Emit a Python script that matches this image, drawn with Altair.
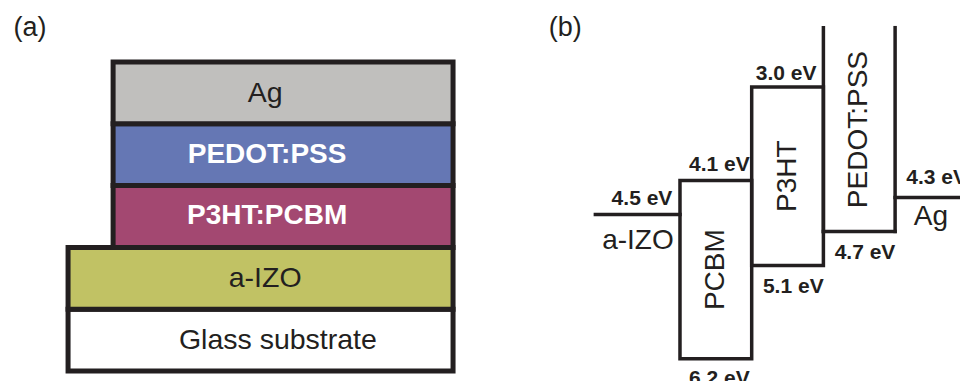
import altair as alt
import pandas as pd

INK = "#231f20"
FONT = "Liberation Sans"

# ---------------- Panel (a): device layer stack ----------------
stack_layers = ["Glass substrate", "a-IZO", "P3HT:PCBM", "PEDOT:PSS", "Ag"]
stack_bottom = [0, 1, 2, 3, 4]
stack_x_start = [0.0, 0.0, 0.117, 0.117, 0.117]
stack_x_end = [1.0, 1.0, 1.0, 1.0, 1.0]
stack_fill = ["#ffffff", "#c1c264", "#a34871", "#6577b4", "#c0bfbd"]
stack_label_x = [0.545, 0.512, 0.517, 0.517, 0.512]
stack_label_bold = [False, False, True, True, False]

# ---------------- Panel (b): energy levels ----------------
box_names = ["PCBM", "P3HT"]
box_x0 = [0, 1]
box_x1 = [1, 2]
box_lumo = [4.1, 3.0]
box_homo = [6.2, 5.1]

electrode_names = ["a-IZO", "Ag"]
electrode_x0 = [-1.18, 3]
electrode_x1 = [0, 4]
electrode_wf = [4.5, 4.3]
electrode_label_x = [-0.586, 3.5]
electrode_label_off = [35, 28]

pedot_name = "PEDOT:PSS"
pedot_x0, pedot_x1 = 2, 3
pedot_wf = 4.7
pedot_top = 2.3

energy_values = [4.5, 4.1, 3.0, 5.1, 4.7, 4.3, 6.2]
energy_label_x = [-0.53, 0.55, 1.48, 1.58, 2.58, 3.58, 0.55]
energy_label_off = [-9, -9, -7, 28, 28, -13, 26]

panel_labels = ["(a)", "(b)"]

# ---------------- build panel (a) ----------------
df_stack = pd.DataFrame({
    "layer": stack_layers,
    "x0": stack_x_start,
    "x1": stack_x_end,
    "y0": stack_bottom,
    "y1": [b + 1 for b in stack_bottom],
    "ymid": [b + 0.5 for b in stack_bottom],
    "lx": stack_label_x,
    "fill": stack_fill,
    "bold": stack_label_bold,
})

sx_a = alt.Scale(domain=[-0.156, 1.070], nice=False, zero=False)
sy_a = alt.Scale(domain=[-0.162, 5.874], nice=False, zero=False)

rects_a = alt.Chart(df_stack).mark_rect(stroke=INK, strokeWidth=5).encode(
    x=alt.X("x0:Q", scale=sx_a, axis=None),
    x2="x1:Q",
    y=alt.Y("y0:Q", scale=sy_a, axis=None),
    y2="y1:Q",
    fill=alt.Fill("fill:N", scale=None),
)

text_a_norm = alt.Chart(df_stack[~df_stack["bold"]]).mark_text(
    font=FONT, fontSize=28.5, color=INK, align="center", baseline="middle"
).encode(
    x=alt.X("lx:Q", scale=sx_a, axis=None),
    y=alt.Y("ymid:Q", scale=sy_a, axis=None),
    text="layer:N",
)

text_a_bold = alt.Chart(df_stack[df_stack["bold"]]).mark_text(
    font=FONT, fontSize=28, fontWeight="bold", color="#ffffff", align="center", baseline="middle"
).encode(
    x=alt.X("lx:Q", scale=sx_a, axis=None),
    y=alt.Y("ymid:Q", scale=sy_a, axis=None),
    text="layer:N",
)

df_la = pd.DataFrame({"t": [panel_labels[0]], "x": [-0.099], "y": [5.55]})
label_a = alt.Chart(df_la).mark_text(
    font=FONT, fontSize=27, color=INK, align="center", baseline="middle"
).encode(
    x=alt.X("x:Q", scale=sx_a, axis=None),
    y=alt.Y("y:Q", scale=sy_a, axis=None),
    text="t:N",
)

panel_a = alt.layer(rects_a, text_a_norm, text_a_bold, label_a).properties(width=472, height=373)

# ---------------- build panel (b) ----------------
sx_b = alt.Scale(domain=[-2.789, 3.905], nice=False, zero=False)
sy_b = alt.Scale(domain=[2.068, 6.462], nice=False, zero=False, reverse=True)

df_boxes = pd.DataFrame({
    "name": box_names, "x0": box_x0, "x1": box_x1,
    "lumo": box_lumo, "homo": box_homo,
    "xm": [(a + b) / 2 for a, b in zip(box_x0, box_x1)],
    "ym": [(a + b) / 2 for a, b in zip(box_lumo, box_homo)],
})

seg_x0, seg_x1, seg_y0, seg_y1 = [], [], [], []
for a, b, w in zip(electrode_x0, electrode_x1, electrode_wf):
    seg_x0.append(a); seg_x1.append(b); seg_y0.append(w); seg_y1.append(w)
for xv in (pedot_x0, pedot_x1):
    seg_x0.append(xv); seg_x1.append(xv); seg_y0.append(pedot_top); seg_y1.append(pedot_wf)
seg_x0.append(pedot_x0); seg_x1.append(pedot_x1); seg_y0.append(pedot_wf); seg_y1.append(pedot_wf)
df_seg = pd.DataFrame({"x0": seg_x0, "x1": seg_x1, "y0": seg_y0, "y1": seg_y1})

boxes_b = alt.Chart(df_boxes).mark_rect(
    fillOpacity=0, stroke=INK, strokeWidth=3.5, clip=True
).encode(
    x=alt.X("x0:Q", scale=sx_b, axis=None),
    x2="x1:Q",
    y=alt.Y("lumo:Q", scale=sy_b, axis=None),
    y2="homo:Q",
)

rules_b = alt.Chart(df_seg).mark_rule(
    color=INK, strokeWidth=3.5, strokeCap="square", clip=True
).encode(
    x=alt.X("x0:Q", scale=sx_b, axis=None),
    x2="x1:Q",
    y=alt.Y("y0:Q", scale=sy_b, axis=None),
    y2="y1:Q",
)

df_rot = pd.DataFrame({
    "name": box_names + [pedot_name],
    "x": list(df_boxes["xm"]) + [(pedot_x0 + pedot_x1) / 2],
    "y": list(df_boxes["ym"]) + [(pedot_top + pedot_wf) / 2],
})
rot_text = alt.Chart(df_rot).mark_text(
    font=FONT, fontSize=28, color=INK, angle=270, align="center", baseline="middle"
).encode(
    x=alt.X("x:Q", scale=sx_b, axis=None),
    y=alt.Y("y:Q", scale=sy_b, axis=None),
    text="name:N",
)

layers_b = [rules_b, boxes_b, rot_text]

# material names next to electrode levels (one layer per label, offset in pixels)
for name, lx, wf, off in zip(electrode_names, electrode_label_x, electrode_wf, electrode_label_off):
    d = pd.DataFrame({"name": [name], "x": [lx], "y": [wf]})
    layers_b.append(
        alt.Chart(d).mark_text(
            font=FONT, fontSize=28, color=INK, align="center",
            baseline="alphabetic", dy=off, clip=True
        ).encode(
            x=alt.X("x:Q", scale=sx_b, axis=None),
            y=alt.Y("y:Q", scale=sy_b, axis=None),
            text="name:N",
        )
    )

# energy values
for v, lx, off in zip(energy_values, energy_label_x, energy_label_off):
    d = pd.DataFrame({"label": [f"{v:.1f} eV"], "x": [lx], "y": [v]})
    layers_b.append(
        alt.Chart(d).mark_text(
            font=FONT, fontSize=21, fontWeight="bold", color=INK,
            align="center", baseline="alphabetic", dy=off, clip=True
        ).encode(
            x=alt.X("x:Q", scale=sx_b, axis=None),
            y=alt.Y("y:Q", scale=sy_b, axis=None),
            text="label:N",
        )
    )

df_lb = pd.DataFrame({"t": [panel_labels[1]], "x": [-1.60], "y": [2.30]})
layers_b.append(
    alt.Chart(df_lb).mark_text(
        font=FONT, fontSize=27, color=INK, align="center", baseline="middle"
    ).encode(
        x=alt.X("x:Q", scale=sx_b, axis=None),
        y=alt.Y("y:Q", scale=sy_b, axis=None),
        text="t:N",
    )
)

panel_b = alt.layer(*layers_b).properties(width=480, height=373)

chart = alt.hconcat(panel_a, panel_b, spacing=0, padding=0, bounds="flush").configure_view(
    strokeWidth=0
)

chart.save("out.html", embed_options={"renderer": "svg", "actions": False})
